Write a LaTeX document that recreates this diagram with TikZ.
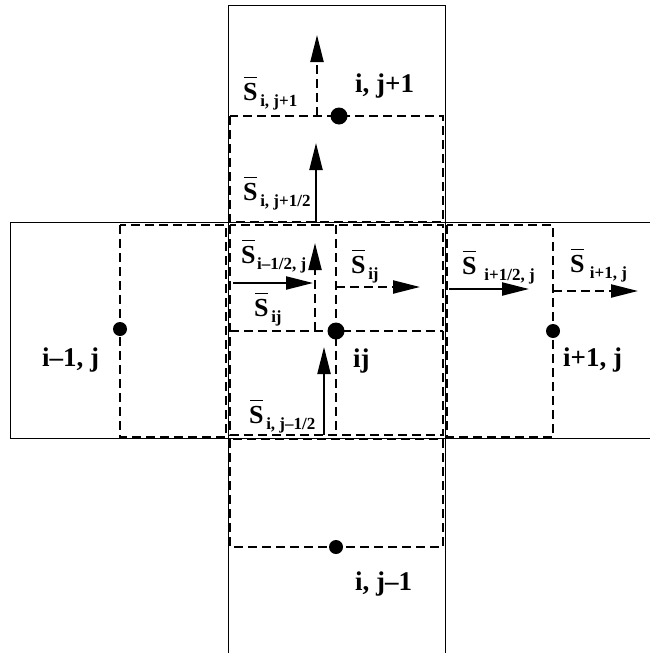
\documentclass[tikz,border=0pt]{standalone}
\usepackage{fontspec}
\setmainfont{Liberation Serif}
\usetikzlibrary{arrows.meta}
% overlined bold S with a lowered subscript; optional gap before the subscript
\newcommand\Sbar[2][0.1em]{\leavevmode\rlap{\kern0.04em\raisebox{0.84em}{\rule{0.5em}{1.5pt}}}S\kern#1\raisebox{-0.24em}{\fontsize{17}{17}\selectfont #2}}
\begin{document}
\begin{tikzpicture}[x=1pt,y=-1pt,
  cellline/.style={line width=1pt},
  dashline/.style={line width=2.3pt, dash pattern=on 9pt off 5pt},
  flux/.style={line width=2.2pt, -{Triangle[length=27pt,width=13pt]}},
  dflux/.style={flux, dash pattern=on 9pt off 5pt},
  bigdot/.style={circle, fill, inner sep=0pt, minimum size=17pt},
  smalldot/.style={circle, fill, inner sep=0pt, minimum size=14pt},
  lab/.style={anchor=base west, inner sep=0pt, font=\fontsize{27}{27}\selectfont\bfseries},
  slab/.style={anchor=base west, inner sep=0pt, font=\fontsize{26}{26}\selectfont\bfseries}]
\useasboundingbox (0,0) rectangle (650,653);

% grid cells (solid)
\draw[cellline] (228,653) -- (228,5) -- (445,5) -- (445,653);
\draw[cellline] (650,222) -- (10,222) -- (10,438) -- (650,438);

% control volumes (dashed)
\draw[dashline] (230,116) rectangle (443,222);
\draw[dashline] (230,225) rectangle (443,435);
\draw[dashline] (120,225) rectangle (226,437);
\draw[dashline] (447,225) rectangle (553,437);
\draw[dashline] (230,439) rectangle (443,547);
\draw[dashline] (336,225) -- (336,435);
\draw[dashline] (230,331) -- (443,331);

% cell centres
\node[bigdot] (top) at (339,116) {};
\node[bigdot] (ctr) at (336,331) {};
\node[smalldot] (lft) at (120,329) {};
\node[smalldot] (rgt) at (553,331) {};
\node[smalldot] (bot) at (336,547) {};

% arrow end points
\coordinate (a1s) at (317,116);  \coordinate (a1e) at (317,35);
\coordinate (a2s) at (316,222);  \coordinate (a2e) at (316,143);
\coordinate (a3s) at (233,283);  \coordinate (a3e) at (313,283);
\coordinate (a4s) at (315,331);  \coordinate (a4e) at (315,243);
\coordinate (a5s) at (336,287);  \coordinate (a5e) at (420,287);
\coordinate (a6s) at (324,435);  \coordinate (a6e) at (324,347);
\coordinate (a7s) at (449,289);  \coordinate (a7e) at (529,289);
\coordinate (a8s) at (553,291);  \coordinate (a8e) at (638,291);

\draw[dflux] (a1s) -- (a1e);
\draw[flux]  (a2s) -- (a2e);
\draw[flux]  (a3s) -- (a3e);
\draw[dflux] (a4s) -- (a4e);
\draw[dflux] (a5s) -- (a5e);
\draw[flux]  (a6s) -- (a6e);
\draw[flux]  (a7s) -- (a7e);
\draw[dflux] (a8s) -- (a8e);

% flux labels
\node[slab] (s1) at (243,100) {\Sbar{i, j+1}};
\node[slab] (s2) at (243,200) {\Sbar{i, j+1/2}};
\node[slab] (s3) at (241,263) {\Sbar[0.06em]{i–1/2, j}};
\node[slab] (s4) at (254,316) {\Sbar{ij}};
\node[slab] (s5) at (351,273) {\Sbar{ij}};
\node[slab] (s6) at (249,423) {\Sbar{i, j–1/2}};
\node[slab] (s7) at (462,274) {\Sbar[0.3em]{i+1/2, j}};
\node[slab] (s8) at (570,272) {\Sbar[0.2em]{i+1, j}};

% cell labels
\node[lab] (l1) at (355,92)  {i, j+1};
\node[lab] (l2) at (353,367) {ij};
\node[lab] (l3) at (42,366)  {i–1, j};
\node[lab] (l4) at (563,366) {i+1, j};
\node[lab] (l5) at (355,590) {i, j–1};
\end{tikzpicture}
\end{document}
